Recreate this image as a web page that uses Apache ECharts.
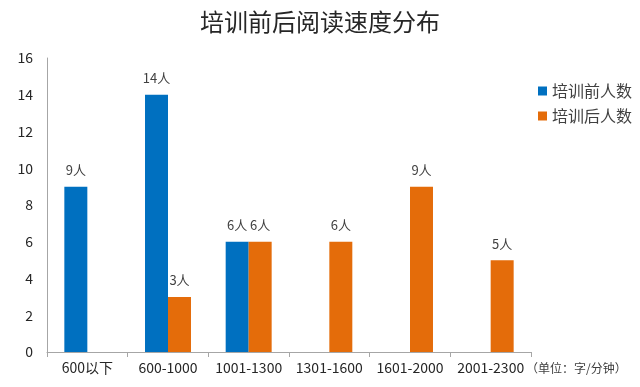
<!DOCTYPE html>
<html><head><meta charset="utf-8">
<script src="https://cdn.jsdelivr.net/npm/echarts@6/dist/echarts.min.js"></script>
<style>html,body{margin:0;padding:0;background:#fff}#c{width:640px;height:387px}</style>
</head><body><div id="c"></div>
<script>
var categories = ['600以下','600-1000','1001-1300','1301-1600','1601-2000','2001-2300'];
var beforeVals = [9, 14, 6, null, null, null];
var afterVals = [null, 3, 6, 6, 9, 5];
var seriesNames = ['培训前人数','培训后人数'];
var yTicks = {min:0, max:16, interval:2};
var font = '"Microsoft YaHei","Noto Sans CJK SC",sans-serif';
var chart = echarts.init(document.getElementById('c'));
var lbl = {show:true, position:'top', distance:10, formatter:function(p){return p.value+'人';}, color:'#404040', fontSize:13, fontFamily:font};
chart.setOption({
  animation:false,
  backgroundColor:'#fff',
  title:{text:'培训前后阅读速度分布', left:'center', top:5, textStyle:{fontSize:24, fontWeight:'normal', color:'#262626', fontFamily:font}},
  legend:{orient:'vertical', left:533, top:78, itemWidth:9, itemHeight:9, itemGap:9, icon:'rect', textStyle:{fontSize:16, color:'#404040', fontFamily:font}},
  grid:{left:47, right:109, top:58, bottom:35, containLabel:false},
  xAxis:{type:'category', data:categories, axisLine:{lineStyle:{color:'#a6a6a6'}}, axisTick:{show:true, length:5, lineStyle:{color:'#a6a6a6'}}, axisLabel:{color:'#262626', fontSize:14, fontFamily:font, margin:9, interval:0}},
  yAxis:{type:'value', min:yTicks.min, max:yTicks.max, interval:yTicks.interval, axisLine:{show:true, lineStyle:{color:'#a6a6a6'}}, axisTick:{show:false}, splitLine:{show:false}, axisLabel:{color:'#262626', fontSize:14, fontFamily:font, margin:14}},
  series:[
    {name:seriesNames[0], type:'bar', data:beforeVals, barGap:'0%', barCategoryGap:'43%', itemStyle:{color:'#0070C0'}, label:lbl},
    {name:seriesNames[1], type:'bar', data:afterVals, barGap:'0%', barCategoryGap:'43%', itemStyle:{color:'#E46C0A'}, label:lbl}
  ],
  graphic:[{type:'text', left:526, top:362, style:{text:'（单位：字/分钟）', fill:'#404040', font:'12px '+font}}]
});
</script></body></html>
